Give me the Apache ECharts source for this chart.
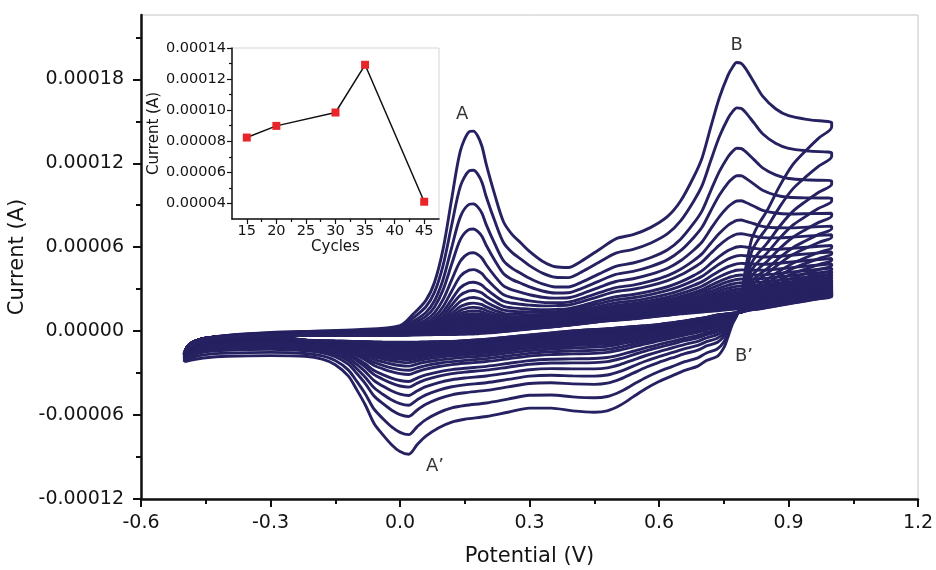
<!DOCTYPE html>
<html><head><meta charset="utf-8">
<script src="https://cdn.jsdelivr.net/npm/echarts@6/dist/echarts.min.js"></script>
<style>html,body{margin:0;padding:0;background:#fff}#c{width:936px;height:570px}</style>
</head><body><div id="c"></div>
<script>
// ---------- main chart data (currents in microamperes, potentials in V) ----------
const potentialFwd = [-0.50,-0.49,-0.47,-0.45,-0.40,-0.30,-0.20,-0.10,0.00,0.03,0.06,0.08,0.10,0.12,0.14,0.16,0.17,0.18,0.19,0.20,0.22,0.24,0.26,0.28,0.30,0.33,0.36,0.39,0.42,0.46,0.50,0.54,0.58,0.62,0.65,0.68,0.70,0.72,0.74,0.76,0.77,0.78,0.79,0.80,0.82,0.84,0.87,0.90,0.95,1.00];
// outermost cycle, forward (anodic) scan
const outerFwd = [-22,-12,-7,-5,-3,-1,0,1,4,12,22,35,59,95,129,142.5,143,139.5,132,119,97,78,69,63,57,50,46,45.5,50,58,66,69,74,82,93,110,124,146,167,183,188.5,192,191.5,188,178,168,159,154,151,149];
// innermost cycle, forward scan
const innerFwd = [-16,-10,-6.5,-5,-3.8,-3,-2.8,-2.8,-2.8,-2.7,-2.6,-2.5,-2.4,-2.3,-2.2,-2,-1.85,-1.7,-1.5,-1.3,-0.9,-0.4,0.2,0.8,1.4,2.3,3,4,5,6.5,7.5,8.5,9.8,11,12,12.8,13.3,13.8,14.3,15,15.2,15.5,15.8,16,17,18,19.5,21,23,25];
// background (non-peak) part of outer minus inner, read under peaks A and B
const backgroundFwd = [-6,-2,-0.5,0,0.8,2,2.8,3.8,6.8,9,11,12.5,14,15.5,17,18.5,19.2,20,21,22,24,26,28.5,31,34,38,43,41.5,45,51.5,58.5,60.5,64.2,71,76,81,85,89,93,97,99,101,103,105,109,113,120,124,126,124];

const potentialRev = [1.00,0.97,0.94,0.91,0.88,0.85,0.83,0.815,0.805,0.797,0.79,0.78,0.77,0.76,0.75,0.735,0.71,0.69,0.66,0.63,0.60,0.57,0.54,0.51,0.48,0.45,0.40,0.35,0.30,0.25,0.20,0.15,0.12,0.09,0.06,0.04,0.02,0.00,-0.02,-0.04,-0.06,-0.08,-0.10,-0.12,-0.15,-0.18,-0.22,-0.30,-0.40,-0.45,-0.48,-0.50];
// outermost cycle, reverse (cathodic) scan
const outerRev = [146,138,129,119,104,86,76,66,52,38,22,11,5,-4,-12,-18,-21,-25,-28,-32,-36,-41,-47,-53,-57,-58,-57,-55,-55,-58,-61,-63,-65,-69,-75,-81,-88,-86,-81,-74,-66,-53,-42,-32,-24,-20,-18,-17.5,-18,-19,-20.5,-22];
// innermost cycle, reverse scan
const innerRev = [24,22.5,21,19.5,18,16.5,15.5,15,14.5,14,13.5,13,12.8,12.5,12.2,11.7,10,9,7.5,6.2,5,4.2,3.5,2.8,2,1.5,0.5,-1,-2.5,-4,-5.5,-6.5,-7,-7.2,-7.4,-7.5,-7.5,-7.5,-7.5,-7.5,-7.4,-7.3,-7.2,-7.1,-7,-6.8,-6.3,-4,-5,-6.5,-10,-16];

// per-cycle readings: current at peak A (0.17 V, forward) and at peak A' (0.02 V, reverse)
const peakA = [143,115,91,73,56,44,35,29,24,20,17,14.5,12.5,11,9.5,8.3,7.2,6.2,5.3,4.5,3.7,3,2.3,1.6,1,0.4,-0.2,-0.8,-1.4,-2];
const peakAprime = [-88,-74,-61,-53,-46,-40,-36,-31,-28,-25,-22.5,-20.5,-19,-17.5,-16.2,-15,-14,-13.1,-12.3,-11.6,-11,-10.5,-10,-9.6,-9.2,-8.9,-8.6,-8.3,-8.1,-7.9];

// peak labels
const annoText = ['A','B','A\u2019','B\u2019'];
const annoPotential = [0.144, 0.78, 0.081, 0.797];
const annoCurrent = [0.000155, 0.000204, -0.0000964, -0.0000179];

// axis ticks
const xTicks = [-0.6,-0.3,0.0,0.3,0.6,0.9,1.2];
const xMinor = [-0.45,-0.15,0.15,0.45,0.75,1.05];
const yTicks = [-0.00012,-0.00006,0,0.00006,0.00012,0.00018];
const yMinor = [-0.00009,-0.00003,0.00003,0.00009,0.00015,0.00021];

// ---------- inset data ----------
const insetCycles = [15,20,30,35,45];
const insetCurrent = [0.0000824,0.0000899,0.0000985,0.0001292,0.0000411];
const insetXTicks = [15,20,25,30,35,40,45];
const insetXMinor = [17.5,22.5,27.5,32.5,37.5,42.5];
const insetYTicks = [0.00004,0.00006,0.00008,0.00010,0.00012,0.00014];
const insetYMinor = [0.00005,0.00007,0.00009,0.00011,0.00013];

// ---------- build cycles ----------
const iA = potentialFwd.indexOf(0.17);
const iAp = potentialRev.indexOf(0.02);
const UA = 1e-6;
const cycles = peakA.map((pa, k) => {
  const r = (peakAprime[k] - innerRev[iAp]) / (outerRev[iAp] - innerRev[iAp]);
  const pkA = outerFwd[iA] - innerFwd[iA] - backgroundFwd[iA];
  const s = (pa - innerFwd[iA] - r * backgroundFwd[iA]) / pkA;
  const fwd = potentialFwd.map((v, i) => [v, (innerFwd[i] + r * backgroundFwd[i] + s * (outerFwd[i] - innerFwd[i] - backgroundFwd[i])) * UA]);
  const rev = potentialRev.map((v, i) => [v, (innerRev[i] + r * (outerRev[i] - innerRev[i])) * UA]);
  return fwd.concat(rev);
});

const FONT = 'DejaVu Sans';
const TXT = '#141414';
const CURVE = '#262262';

const series = cycles.map((d) => ({
  type: 'line', xAxisIndex: 0, yAxisIndex: 0, data: d, showSymbol: false, symbol: 'none',
  smooth: 0.3, lineStyle: { color: CURVE, width: 2.9 }, silent: true, z: 2
}));
series.push({
  type: 'scatter', xAxisIndex: 0, yAxisIndex: 0, symbolSize: 0, silent: true, z: 5,
  data: annoText.map((t, i) => ({ name: t, value: [annoPotential[i], annoCurrent[i]] })),
  label: { show: true, position: 'inside', formatter: p => p.name, fontFamily: FONT, fontSize: 18, color: '#000' }
});
series.push({
  type: 'line', xAxisIndex: 2, yAxisIndex: 2, silent: true, z: 6,
  data: insetCycles.map((c, i) => [c, insetCurrent[i]]),
  lineStyle: { color: '#111', width: 1.5 },
  symbol: 'rect', symbolSize: 8, itemStyle: { color: '#e8262a', borderWidth: 0 }
});

function minorAxis(grid, min, max, vals, len, pos) {
  return { gridIndex: grid, type: 'value', min: min, max: max, position: pos,
    axisLine: { show: false, onZero: false }, splitLine: { show: false }, axisLabel: { show: false },
    axisTick: { show: true, customValues: vals, length: len, lineStyle: { color: '#111', width: grid === 0 ? 2 : 1.2 } } };
}

const option = {
  animation: false,
  backgroundColor: '#fff',
  grid: [
    { left: 141, right: 18, top: 15, bottom: 71, show: true, borderColor: '#c4c4c4', borderWidth: 1, containLabel: false, outerBoundsMode: 'none' },
    { left: 232, top: 48, width: 207, height: 171, show: true, borderColor: '#d4d4d4', borderWidth: 1, backgroundColor: '#fff', containLabel: false, outerBoundsMode: 'none' }
  ],
  xAxis: [
    { gridIndex: 0, type: 'value', min: -0.6, max: 1.2, position: 'bottom',
      axisLine: { onZero: false, lineStyle: { color: '#111', width: 2.5 } },
      axisTick: { customValues: xTicks, length: 8, lineStyle: { color: '#111', width: 2 } },
      axisLabel: { customValues: xTicks, formatter: v => v.toFixed(1), margin: 15, fontFamily: FONT, fontSize: 19, color: TXT },
      splitLine: { show: false },
      name: 'Potential (V)', nameLocation: 'middle', nameGap: 47,
      nameTextStyle: { fontFamily: FONT, fontSize: 21, color: TXT } },
    minorAxis(0, -0.6, 1.2, xMinor, 5, 'bottom'),
    { gridIndex: 1, type: 'value', min: 12.5, max: 47.5, position: 'bottom',
      axisLine: { onZero: false, lineStyle: { color: '#111', width: 1.5 } },
      axisTick: { customValues: insetXTicks, length: 5, lineStyle: { color: '#111', width: 1.2 } },
      axisLabel: { customValues: insetXTicks, margin: 5, fontFamily: FONT, fontSize: 14.5, color: TXT },
      splitLine: { show: false },
      name: 'Cycles', nameLocation: 'middle', nameGap: 21,
      nameTextStyle: { fontFamily: FONT, fontSize: 15, color: TXT } },
    minorAxis(1, 12.5, 47.5, insetXMinor, 3, 'bottom')
  ],
  yAxis: [
    { gridIndex: 0, type: 'value', min: -0.00012, max: 0.000226, position: 'left',
      axisLine: { onZero: false, lineStyle: { color: '#111', width: 2.5 } },
      axisTick: { customValues: yTicks, length: 8, lineStyle: { color: '#111', width: 2 } },
      axisLabel: { customValues: yTicks, formatter: v => v.toFixed(5), margin: 17, fontFamily: FONT, fontSize: 19, color: TXT },
      splitLine: { show: false },
      name: 'Current (A)', nameLocation: 'middle', nameGap: 110,
      nameTextStyle: { fontFamily: FONT, fontSize: 21, color: TXT } },
    minorAxis(0, -0.00012, 0.000226, yMinor, 5, 'left'),
    { gridIndex: 1, type: 'value', min: 0.00003, max: 0.00014, position: 'left',
      axisLine: { onZero: false, lineStyle: { color: '#111', width: 1.5 } },
      axisTick: { customValues: insetYTicks, length: 5, lineStyle: { color: '#111', width: 1.2 } },
      axisLabel: { customValues: insetYTicks, formatter: v => v.toFixed(5), margin: 6, fontFamily: FONT, fontSize: 14.5, color: TXT },
      splitLine: { show: false },
      name: 'Current (A)', nameLocation: 'middle', nameGap: 70,
      nameTextStyle: { fontFamily: FONT, fontSize: 15, color: TXT } },
    minorAxis(1, 0.00003, 0.00014, insetYMinor, 3, 'left')
  ],
  series: series
};

const chart = echarts.init(document.getElementById('c'), null, { renderer: 'canvas' });
chart.setOption(option);
</script></body></html>
